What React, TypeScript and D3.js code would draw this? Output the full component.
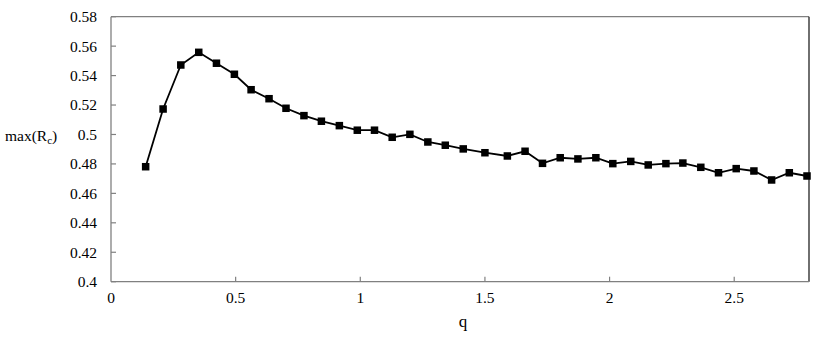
import React from "react";
import * as d3 from "d3";

const qValues = [
  0.139, 0.209, 0.28, 0.352, 0.423, 0.495, 0.562, 0.634, 0.702, 0.774,
  0.844, 0.916, 0.988, 1.057, 1.128, 1.199, 1.271, 1.341, 1.413, 1.5,
  1.59, 1.661, 1.731, 1.802, 1.873, 1.945, 2.013, 2.085, 2.155, 2.226,
  2.294, 2.366, 2.437, 2.508, 2.579, 2.65, 2.721, 2.792,
];
const maxRc = [
  0.4781, 0.5173, 0.5472, 0.5558, 0.5484, 0.5409, 0.5304, 0.5243, 0.5178, 0.5128,
  0.509, 0.506, 0.5029, 0.5029, 0.4981, 0.5001, 0.4949, 0.4927, 0.4902, 0.4876,
  0.4854, 0.4886, 0.4804, 0.4842, 0.4834, 0.4842, 0.4802, 0.4817, 0.4793, 0.4802,
  0.4806, 0.4777, 0.474, 0.4768, 0.4752, 0.4691, 0.474, 0.4718,
];
const xTicks = [0, 0.5, 1, 1.5, 2, 2.5];
const xTickLabels = ["0", "0.5", "1", "1.5", "2", "2.5"];
const yTicks = [0.4, 0.42, 0.44, 0.46, 0.48, 0.5, 0.52, 0.54, 0.56, 0.58];
const yTickLabels = ["0.4", "0.42", "0.44", "0.46", "0.48", "0.5", "0.52", "0.54", "0.56", "0.58"];

export default function App() {
  const W = 830, H = 338;
  const left = 111, right = 809, top = 16.7, bottom = 281.7;
  const x = d3.scaleLinear().domain([0, 2.8]).range([left, right]);
  const y = d3.scaleLinear().domain([0.4, 0.58]).range([bottom, top]);
  const data = qValues.map((q, i) => ({ q, v: maxRc[i] }));
  const line = d3.line<{ q: number; v: number }>().x(d => x(d.q)).y(d => y(d.v));
  const tf: React.CSSProperties = { fontFamily: "Liberation Serif" };
  const ms = 7.5;
  return (
    <svg width={W} height={H} style={{ position: "absolute", left: 0, top: 0, background: "#fff" }}>
      <rect x={0} y={0} width={W} height={H} fill="#fff" />
      <line x1={left} x2={right} y1={top} y2={top} stroke="#808080" strokeWidth={1.3} />
      <line x1={right} x2={right} y1={top} y2={bottom} stroke="#222" strokeWidth={1.3} />
      <line x1={left} x2={left} y1={top} y2={bottom} stroke="#808080" strokeWidth={1.3} />
      <line x1={left} x2={right} y1={bottom} y2={bottom} stroke="#808080" strokeWidth={1.3} />
      {yTicks.map((t, i) => (
        <g key={"y" + i}>
          <line x1={left} x2={left + 5} y1={y(t)} y2={y(t)} stroke="#808080" strokeWidth={1.2} />
          <text x={97} y={y(t)} dy="0.35em" textAnchor="end" fontSize={15.5} fill="#000" style={tf}>
            {yTickLabels[i]}
          </text>
        </g>
      ))}
      {xTicks.map((t, i) => (
        <g key={"x" + i}>
          {i > 0 && <line x1={x(t)} x2={x(t)} y1={bottom} y2={bottom - 5} stroke="#808080" strokeWidth={1.2} />}
          <text x={x(t)} y={303} textAnchor="middle" fontSize={15.5} fill="#000" style={tf}>
            {xTickLabels[i]}
          </text>
        </g>
      ))}
      <text x={463} y={327} textAnchor="middle" fontSize={17} fill="#000" style={tf}>q</text>
      <text x={5} y={141} fontSize={15.5} fill="#000" style={tf}>
        max(R<tspan fontSize={11} dy={3}>c</tspan><tspan dy={-3}>)</tspan>
      </text>
      <path d={line(data) || ""} fill="none" stroke="#000" strokeWidth={1.8} />
      {data.map((d, i) => (
        <rect key={i} x={x(d.q) - ms / 2} y={y(d.v) - ms / 2} width={ms} height={ms} fill="#000" />
      ))}
    </svg>
  );
}
